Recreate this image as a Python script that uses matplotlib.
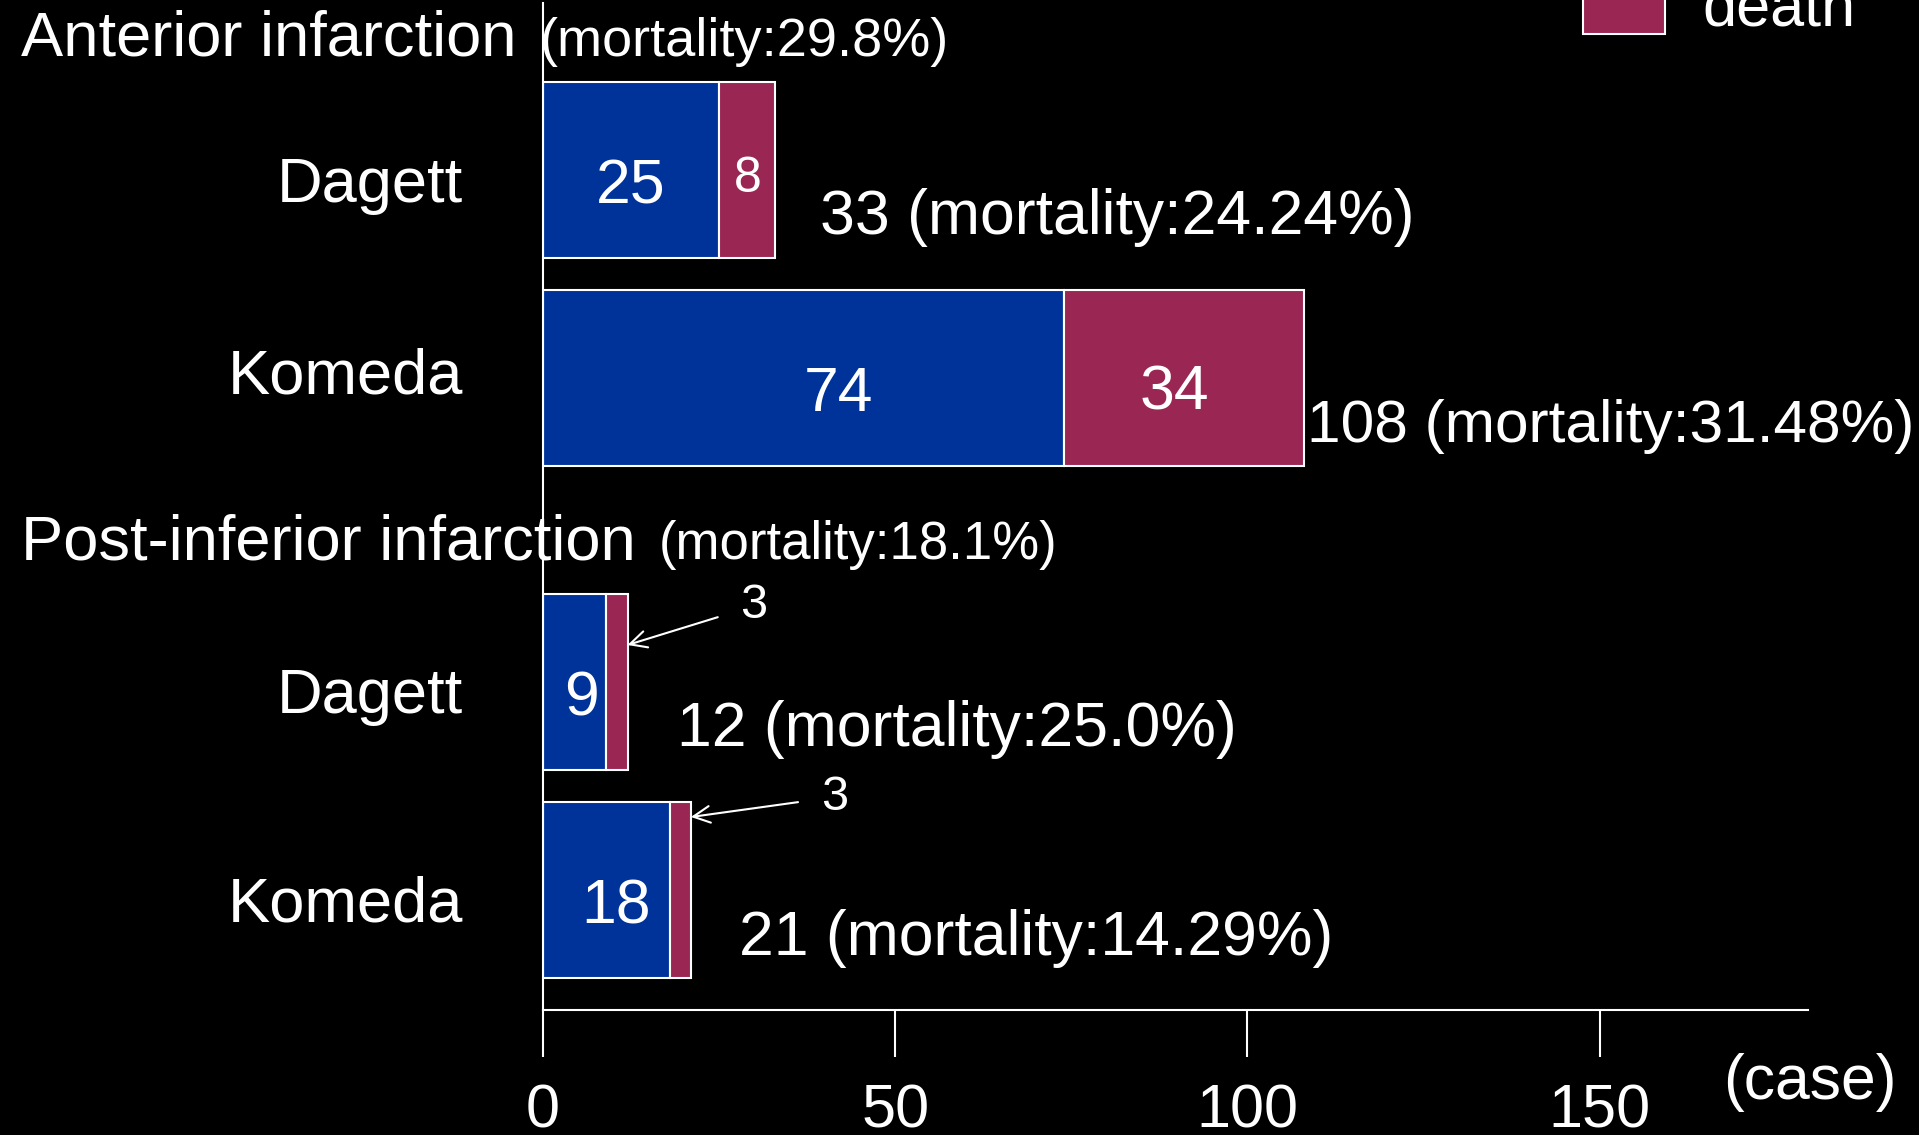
import matplotlib
matplotlib.use("Agg")
import matplotlib.pyplot as plt
from matplotlib.patches import Rectangle

plt.rcParams['font.family'] = ['Liberation Sans', 'DejaVu Sans']

# data
groups = ["Anterior infarction", "Post-inferior infarction"]
group_mortality = ["(mortality:29.8%)", "(mortality:18.1%)"]
studies = ["Dagett", "Komeda", "Dagett", "Komeda"]
survival = [25, 74, 9, 18]
death = [8, 34, 3, 3]
totals = [33, 108, 12, 21]
mortality = ["24.24%", "31.48%", "25.0%", "14.29%"]
xticks = [0, 50, 100, 150]

W, H = 1919, 1135
BLUE = "#003399"
RED = "#992653"


def fx(x):
    return x / W


def fy(y):
    return 1 - y / H


fig = plt.figure(figsize=(W / 100, H / 100), dpi=100, facecolor="black")

# axes: x from 0 at px 543 to the end of the axis line, y in pixel rows
ax = fig.add_axes([fx(543), fy(1010), (1808 - 543) / W, (1010 - 3) / H])
ax.set_facecolor("black")
ax.set_xlim(0, 179.6)
ax.set_ylim(1010, 3)

ypos = [170, 378, 682, 890]
bar_h = 176

ax.barh(ypos, survival, height=bar_h, color=BLUE, edgecolor="white", linewidth=1.5)
ax.barh(ypos, death, left=survival, height=bar_h, color=RED,
        edgecolor="white", linewidth=1.5)

# numbers inside the bars
surv_x = [12.5, 42, 5.4, 10.4]
for i in range(4):
    ax.text(surv_x[i], ypos[i] + 33, str(survival[i]), color="white",
            fontsize=45, ha="center", va="baseline")
ax.text(survival[0] + death[0] / 2, ypos[0] + 22, str(death[0]), color="white",
        fontsize=36, ha="center", va="baseline")
ax.text(89.7, ypos[1] + 32, str(death[1]), color="white",
        fontsize=45, ha="center", va="baseline")

# small death counts with arrows
arrow_txt = [(754, 606), (835, 797)]
arrow_y = [645, 817]
for k, i in enumerate([2, 3]):
    ax.annotate(str(death[i]), xy=(totals[i], arrow_y[k]), xycoords="data",
                xytext=(fx(arrow_txt[k][0]), fy(arrow_txt[k][1])),
                textcoords="figure fraction", color="white", fontsize=35,
                ha="center", va="center",
                arrowprops=dict(arrowstyle="->", color="white", lw=1.5,
                                shrinkA=15, shrinkB=0, mutation_scale=30))

# totals with mortality
tot_x = [820, 1307, 677, 739]
tot_base = [234, 442, 746, 955]
tot_size = [45, 43.5, 45, 45]
for i in range(4):
    fig.text(fx(tot_x[i]), fy(tot_base[i]),
             f"{totals[i]} (mortality:{mortality[i]})", color="white",
             fontsize=tot_size[i], ha="left", va="baseline")

# study names
name_base = [202, 393, 713, 921]
for i in range(4):
    fig.text(fx(463), fy(name_base[i]), studies[i], color="white",
             fontsize=45.5, ha="right", va="baseline")

# group headings
fig.text(fx(21), fy(56), groups[0], color="white", fontsize=45.5, va="baseline")
fig.text(fx(540), fy(56), group_mortality[0], color="white", fontsize=39, va="baseline")
fig.text(fx(21), fy(559), groups[1], color="white", fontsize=45.5, va="baseline")
fig.text(fx(659), fy(559), group_mortality[1], color="white", fontsize=38, va="baseline")

# legend entry (partly cut off at the top)
fig.patches.append(Rectangle((fx(1583), fy(34)), (1665 - 1583) / W, 50 / H,
                             transform=fig.transFigure, facecolor=RED,
                             edgecolor="white", linewidth=1.5))
fig.text(fx(1702), fy(26), "death", color="white", fontsize=44, va="baseline")

# unit label
fig.text(fx(1810), fy(1099), "(case)", color="white", fontsize=45,
         ha="center", va="baseline")

# axis styling
for s in ["top", "right"]:
    ax.spines[s].set_visible(False)
for s in ["left", "bottom"]:
    ax.spines[s].set_color("white")
    ax.spines[s].set_linewidth(1.5)
ax.set_yticks([])
ax.set_xticks(xticks)
ax.tick_params(axis="x", colors="white", length=34, width=1.5,
               labelsize=44, pad=19)

fig.savefig("out.png", dpi=100, facecolor="black")
